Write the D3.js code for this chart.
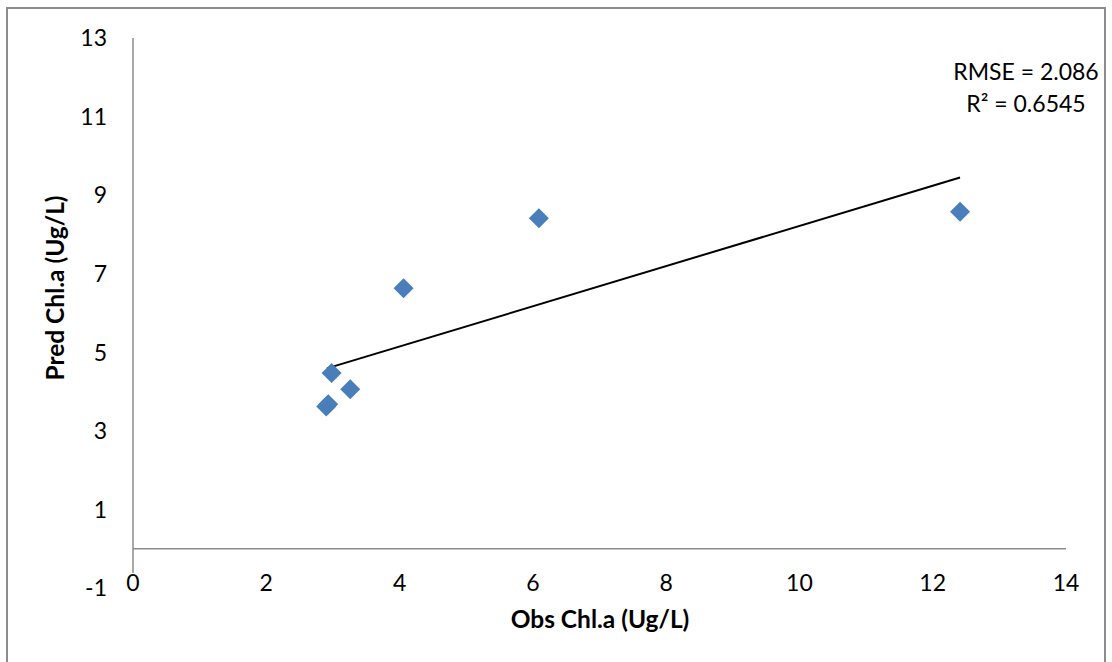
<!DOCTYPE html>
<html>
<head>
<meta charset="utf-8">
<script src="https://cdn.jsdelivr.net/npm/d3@7"></script>
<style>
  body { margin: 0; background: #fff; }
  svg text { font-family: Lato, "Open Sans", sans-serif; }
</style>
</head>
<body>
<div id="chart"></div>
<script>
var obsX  = [2.93, 2.90, 2.98, 3.26, 4.06, 6.09, 12.41];
var predY = [3.68, 3.62, 4.47, 4.06, 6.63, 8.41, 8.58];

// trend line end points (as drawn)
var trendX = [2.91, 12.41];
var trendY = [4.59, 9.45];

var xTicks = [0, 2, 4, 6, 8, 10, 12, 14];
var yTicks = [-1, 1, 3, 5, 7, 9, 11, 13];

var statLines = ["RMSE = 2.086", "R\u00b2 = 0.6545"];

var width = 1112, height = 662;

var x = d3.scaleLinear().domain([0, 14]).range([133, 1066]);
var y = d3.scaleLinear().domain([-1, 13]).range([588, 38]);

var svg = d3.select("#chart").append("svg")
    .attr("width", width)
    .attr("height", height);

// outer frame
svg.append("rect")
    .attr("x", 7).attr("y", 8)
    .attr("width", 1098).attr("height", 670)
    .style("fill", "none")
    .style("stroke", "#8c8c8c")
    .style("stroke-width", 2);

// axis lines
svg.append("line")
    .attr("x1", x(0)).attr("x2", x(0))
    .attr("y1", y(13)).attr("y2", y(-0.62))
    .style("stroke", "#8c8c8c").style("stroke-width", 1.5);

svg.append("line")
    .attr("x1", x(0)).attr("x2", x(14))
    .attr("y1", y(0)).attr("y2", y(0))
    .style("stroke", "#8c8c8c").style("stroke-width", 1.5);

// y tick labels
svg.selectAll("text.ytick")
    .data(yTicks)
  .enter().append("text")
    .attr("class", "ytick")
    .attr("x", 107)
    .attr("y", function(d){ return y(d); })
    .attr("dy", "0.36em")
    .attr("text-anchor", "end")
    .style("font-size", "23px")
    .style("fill", "#000")
    .text(function(d){ return d; });

// x tick labels (low position)
svg.selectAll("text.xtick")
    .data(xTicks)
  .enter().append("text")
    .attr("class", "xtick")
    .attr("x", function(d){ return x(d); })
    .attr("y", 583)
    .attr("dy", "0.36em")
    .attr("text-anchor", "middle")
    .style("font-size", "23px")
    .style("fill", "#000")
    .text(function(d){ return d; });

// trend line
svg.append("line")
    .attr("x1", x(trendX[0])).attr("y1", y(trendY[0]))
    .attr("x2", x(trendX[1])).attr("y2", y(trendY[1]))
    .style("stroke", "#000").style("stroke-width", 2);

// points
var pts = obsX.map(function(v, i){ return {x: v, y: predY[i]}; });
svg.selectAll("path.pt")
    .data(pts)
  .enter().append("path")
    .attr("class", "pt")
    .attr("d", "M0,-10L10,0L0,10L-10,0Z")
    .attr("transform", function(d){ return "translate(" + x(d.x) + "," + y(d.y) + ")"; })
    .style("fill", "#4a7ebb");

// stats label
svg.selectAll("text.stat")
    .data(statLines)
  .enter().append("text")
    .attr("class", "stat")
    .attr("x", 1026)
    .attr("y", function(d, i){ return 72 + i * 32; })
    .attr("dy", "0.36em")
    .attr("text-anchor", "middle")
    .style("font-size", "23px")
    .style("fill", "#000")
    .text(function(d){ return d; });

// axis titles
svg.append("text")
    .attr("x", 600)
    .attr("y", 619)
    .attr("dy", "0.36em")
    .attr("text-anchor", "middle")
    .style("font-size", "24.5px")
    .style("font-weight", "bold")
    .text("Obs Chl.a (Ug/L)");

svg.append("text")
    .attr("transform", "translate(55,288) rotate(-90)")
    .attr("dy", "0.36em")
    .attr("text-anchor", "middle")
    .style("font-size", "24.5px")
    .style("font-weight", "bold")
    .text("Pred Chl.a (Ug/L)");
</script>
</body>
</html>
